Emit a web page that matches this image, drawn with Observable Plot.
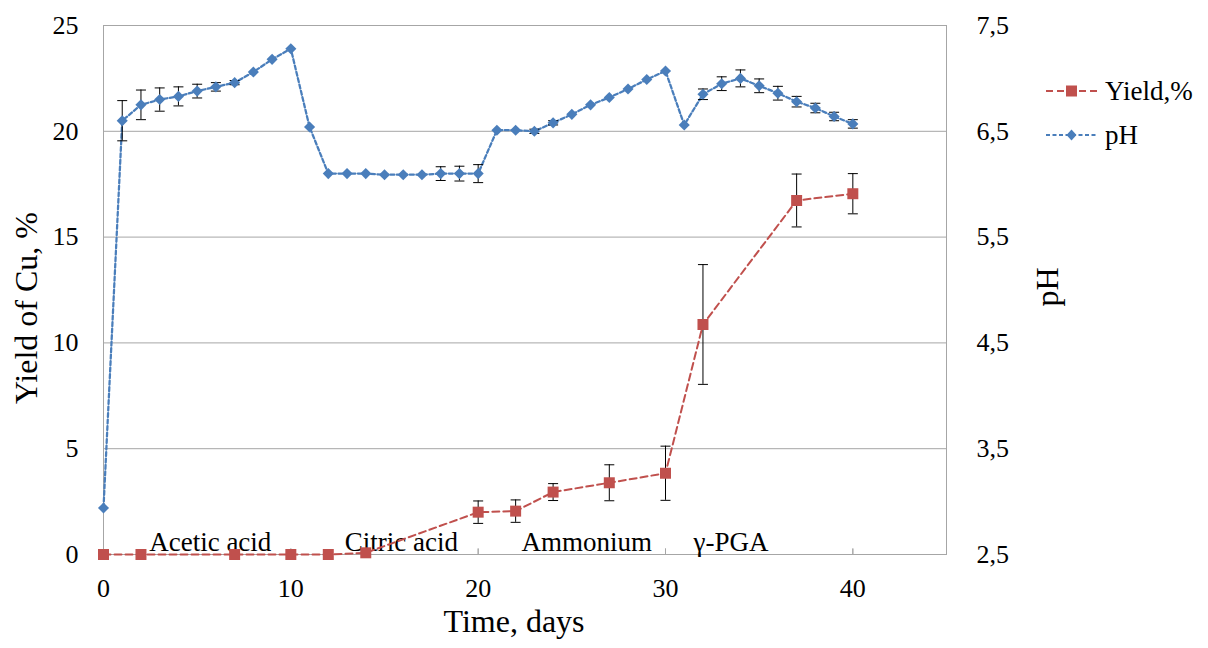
<!DOCTYPE html>
<html>
<head>
<meta charset="utf-8">
<script src="https://cdn.jsdelivr.net/npm/d3@7"></script>
<script src="https://cdn.jsdelivr.net/npm/@observablehq/plot@0.6"></script>
<style>
  html, body { margin: 0; padding: 0; background: #fff; }
  #wrap { position: relative; width: 1208px; height: 648px; font-family: "Liberation Serif", "Times New Roman", serif; }
  #legend { position: absolute; left: 1046px; top: 75px; }
  .row { display: flex; align-items: center; height: 32px; margin-bottom: 12px; }
  .row span { font-size: 27px; margin-left: 8px; color: #000; line-height: 32px; }
</style>
</head>
<body>
<div id="wrap">
  <div id="chart"></div>
  <div id="legend"></div>
</div>
<script>
// ---- data ----
const yieldDays   = [0, 2, 7, 10, 12, 14, 20, 22, 24, 27, 30, 32, 37, 40];
const yieldValues = [0, 0, 0, 0, 0, 0.08, 2.0, 2.05, 2.95, 3.39, 3.84, 10.87, 16.73, 17.05];
const yieldErrors = [0, 0, 0, 0, 0, 0, 0.53, 0.53, 0.4, 0.85, 1.28, 2.83, 1.25, 0.95];

const phDays   = [0, 1, 2, 3, 4, 5, 6, 7, 8, 9, 10, 11, 12, 13, 14, 15, 16, 17, 18, 19, 20,
                  21, 22, 23, 24, 25, 26, 27, 28, 29, 30, 31, 32, 33, 34, 35, 36, 37, 38, 39, 40];
const phValues = [2.94, 6.60, 6.75, 6.80, 6.83, 6.88, 6.92, 6.96, 7.06, 7.18, 7.28, 6.54, 6.10, 6.10, 6.10, 6.09, 6.09, 6.09, 6.10, 6.10, 6.10,
                  6.51, 6.51, 6.50, 6.58, 6.66, 6.75, 6.82, 6.90, 6.99, 7.07, 6.56, 6.85, 6.95, 7.00, 6.93, 6.86, 6.78, 6.72, 6.64, 6.57];
const phErrors = [0, 0.19, 0.14, 0.11, 0.09, 0.065, 0.04, 0.02, 0, 0, 0, 0, 0, 0, 0, 0, 0, 0, 0.065, 0.07, 0.085,
                  0, 0, 0.02, 0.02, 0, 0, 0, 0, 0, 0, 0, 0.05, 0.065, 0.08, 0.065, 0.065, 0.05, 0.045, 0.04, 0.04];

const xTicks = [0, 10, 20, 30, 40];
const yTicks = [0, 5, 10, 15, 20, 25];
const phTickLabels = ["2,5", "3,5", "4,5", "5,5", "6,5", "7,5"];
const phMin = 2.5, phPerYieldUnit = 0.2; // right axis: 2.5..7.5 over 0..25

const stageLabels = ["Acetic acid", "Citric acid", "Ammonium", "γ-PGA"];
const stageX      = [5.7, 15.9, 25.8, 33.5];

// ---- tables ----
const yieldRows = yieldDays.map((d, i) => ({day: d, v: yieldValues[i], e: yieldErrors[i]}));
const phRows = phDays.map((d, i) => ({day: d, v: (phValues[i] - phMin) / phPerYieldUnit, e: phErrors[i] / phPerYieldUnit}));
const yieldErr = yieldRows.filter(r => r.e > 0);
const phErr = phRows.filter(r => r.e > 0);
const stages = stageLabels.map((t, i) => ({t, x: stageX[i]}));

const RED = "#C0504D", BLUE = "#4A7EBB", GRID = "#a6a6a6";
const cap = {draw(ctx, size) { const w = Math.sqrt(size / Math.PI); ctx.moveTo(-w, 0); ctx.lineTo(w, 0); }};

const errMarks = (rows) => [
  Plot.ruleX(rows, {x: "day", y1: r => r.v - r.e, y2: r => r.v + r.e, stroke: "#000", strokeWidth: 1}),
  Plot.dot(rows, {x: "day", y: r => r.v + r.e, symbol: cap, r: 5, stroke: "#000", fill: "none", strokeWidth: 1}),
  Plot.dot(rows, {x: "day", y: r => r.v - r.e, symbol: cap, r: 5, stroke: "#000", fill: "none", strokeWidth: 1})
];

const chart = Plot.plot({
  width: 1208,
  height: 648,
  marginLeft: 103,
  marginRight: 262,
  marginTop: 25,
  marginBottom: 94,
  x: {domain: [0, 45]},
  y: {domain: [0, 25]},
  style: {fontFamily: "'Liberation Serif', 'Times New Roman', serif", fontSize: "26px", color: "#000", background: "#fff"},
  marks: [
    Plot.gridY(yTicks, {stroke: GRID, strokeOpacity: 1, strokeWidth: 1}),
    Plot.frame({stroke: GRID, strokeWidth: 1}),
    Plot.vector(xTicks.slice(1), {x: d => d, frameAnchor: "bottom", length: 6, rotate: 0, anchor: "start", shape: "spike", r: 0, stroke: GRID, strokeWidth: 1}),
    Plot.axisX(xTicks, {tickSize: 0, tickPadding: 24, label: null, fontSize: 26}),
    Plot.axisY(yTicks, {anchor: "left", tickSize: 0, tickPadding: 25, label: null, fontSize: 26}),
    Plot.axisY(yTicks, {anchor: "right", tickSize: 0, tickPadding: 30, label: null, fontSize: 26,
      tickFormat: d => phTickLabels[yTicks.indexOf(d)]}),
    Plot.text(["Yield of Cu, %"], {frameAnchor: "left", textAnchor: "middle", rotate: -90, dx: -77, dy: 18, fontSize: 32}),
    Plot.text(["Time, days"], {frameAnchor: "bottom", textAnchor: "middle", dx: -11, dy: 77, fontSize: 32}),
    Plot.text(["pH"], {frameAnchor: "right", textAnchor: "middle", rotate: -90, dx: 101, dy: -3, fontSize: 32}),
    Plot.text(stages, {x: "x", text: "t", frameAnchor: "bottom", textAnchor: "middle", lineAnchor: "bottom", dy: -3.5, fontSize: 27}),
    Plot.line(yieldRows, {x: "day", y: "v", stroke: RED, strokeWidth: 2, strokeDasharray: "7,4"}),
    Plot.line(phRows, {x: "day", y: "v", stroke: BLUE, strokeWidth: 2.25, strokeDasharray: "4,2.5"}),
    ...errMarks(yieldErr),
    ...errMarks(phErr),
    Plot.dot(yieldRows, {x: "day", y: "v", symbol: "square", r: 6.2, fill: RED, stroke: "none"}),
    Plot.dot(phRows, {x: "day", y: "v", symbol: "diamond2", r: 5, fill: BLUE, stroke: "none"})
  ]
});
document.getElementById("chart").appendChild(chart);

// ---- legend ----
const legendItems = [
  {label: "Yield,%", color: RED, dash: "7,4", marker: "square"},
  {label: "pH", color: BLUE, dash: "4,2.5", marker: "diamond"}
];
const legend = document.getElementById("legend");
for (const it of legendItems) {
  const row = document.createElement("div");
  row.className = "row";
  const m = it.marker === "square"
    ? `<rect x="20" y="10.5" width="11" height="11" fill="${it.color}"/>`
    : `<path d="M25.5,10.5 L30.5,16 L25.5,21.5 L20.5,16 Z" fill="${it.color}"/>`;
  row.innerHTML = `<svg width="51" height="32"><line x1="0" x2="51" y1="16" y2="16" stroke="${it.color}" stroke-width="2" stroke-dasharray="${it.dash}"/>${m}</svg><span>${it.label}</span>`;
  legend.appendChild(row);
}
</script>
</body>
</html>
